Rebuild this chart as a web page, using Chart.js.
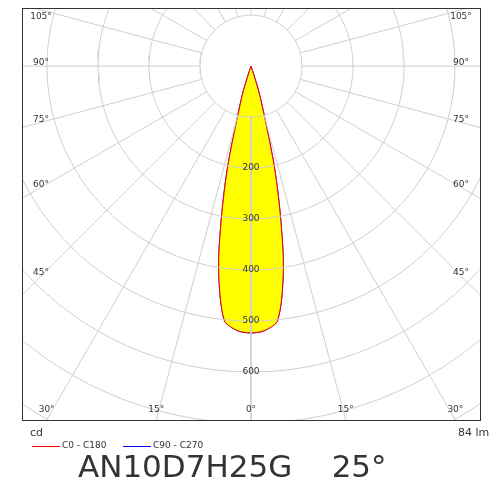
<!DOCTYPE html>
<html><head><meta charset="utf-8">
<script src="https://cdn.jsdelivr.net/npm/chart.js@4/dist/chart.umd.min.js"></script>
<style>
body{margin:0;background:#fff;font-family:"DejaVu Sans",sans-serif;}
#wrap{position:relative;width:500px;height:500px;}
canvas{position:absolute;left:0;top:0;}
.t{position:absolute;color:#333;white-space:nowrap;}
</style></head><body>
<div id="wrap"><canvas id="c" width="500" height="500"></canvas>
<div class="t" style="left:30px;top:426px;font-size:11px">cd</div>
<div class="t" style="left:458px;top:426px;font-size:11px">84 lm</div>
<div style="position:absolute;left:32px;top:446px;width:28px;height:1px;background:#ff0000"></div>
<div class="t" style="left:62px;top:440px;font-size:9px">C0 - C180</div>
<div style="position:absolute;left:123px;top:446px;width:28px;height:1px;background:#0000ff"></div>
<div class="t" style="left:153px;top:440px;font-size:9px">C90 - C270</div>
<div class="t" style="left:78px;top:448px;font-size:31px;color:#333">AN10D7H25G&nbsp;&nbsp;&nbsp;&nbsp;25°</div>
</div>
<script>
const angles=[0,3,6,9,11,13,15,17,20];
const c0=[523,519,501,405,304,205,99,50,0];
const c90=[523,519,501,405,304,205,99,50,0];
const rings=[100,200,300,400,500,600,700,800,900];
const ringLabels=[200,300,400,500,600];
const sideLabels=[105,90,75,60,45];
const bottomLabels=[30,15,0,15,30];

const rad=d=>d*Math.PI/180;
function lobe(vals){const pts=[];
  for(let i=angles.length-1;i>=0;i--)pts.push({x:-vals[i]*Math.sin(rad(angles[i])),y:-vals[i]*Math.cos(rad(angles[i]))});
  for(let i=1;i<angles.length;i++)pts.push({x:vals[i]*Math.sin(rad(angles[i])),y:-vals[i]*Math.cos(rad(angles[i]))});
  return pts;}
const ds=[];
rings.forEach(r=>{const p=[];for(let a=0;a<=360;a+=3)p.push({x:r*Math.sin(rad(a)),y:-r*Math.cos(rad(a))});
  ds.push({data:p,showLine:true,borderColor:'#cfcfcf',borderWidth:1,pointRadius:0,fill:false});});
for(let a=-165;a<=180;a+=15){ds.push({data:[{x:100*Math.sin(rad(a)),y:-100*Math.cos(rad(a))},{x:1200*Math.sin(rad(a)),y:-1200*Math.cos(rad(a))}],showLine:true,borderColor:'#cfcfcf',borderWidth:1,pointRadius:0});}
ds.push({data:lobe(c0),showLine:true,borderColor:'#ff0000',borderWidth:1,pointRadius:0,fill:'shape',backgroundColor:'#ffff00',tension:0.3});
ds.push({data:lobe(c90),showLine:true,borderColor:'#0000ff',borderWidth:1.2,pointRadius:0,fill:false,tension:0.3});

const labels={id:'labels',afterDraw(ch){const ctx=ch.ctx,xs=ch.scales.x,ys=ch.scales.y,a=ch.chartArea;
  ctx.save();ctx.strokeStyle='#333';ctx.lineWidth=1;ctx.strokeRect(a.left+0.5,a.top+0.5,a.right-a.left,a.bottom-a.top);
  ctx.font='9px "DejaVu Sans"';ctx.fillStyle='#333';ctx.textAlign='center';ctx.textBaseline='middle';
  ringLabels.forEach(r=>ctx.fillText(String(r),xs.getPixelForValue(0),ys.getPixelForValue(-r)));
  const lx=xs.getValueForPixel(a.right-19);
  sideLabels.forEach(d=>{const y=-lx/Math.tan(rad(d));const py=Math.max(ys.getPixelForValue(y)-3,a.top+9);
    ctx.fillText(d+'°',a.left+19,py);ctx.fillText(d+'°',a.right-19,py);});
  const by=ys.min;const signs=[-1,-1,0,1,1];
  bottomLabels.forEach((d,i)=>{let x=signs[i]*(-by)*Math.tan(rad(d));let px=xs.getPixelForValue(x);
    px=Math.min(Math.max(px,a.left+18),a.right-18);ctx.fillText(d+'°',px,a.bottom-10);});
  ctx.restore();}};

new Chart(document.getElementById('c'),{type:'scatter',data:{datasets:ds},
 options:{responsive:false,animation:false,layout:{padding:{left:22,right:20,top:8,bottom:80}},
  plugins:{legend:{display:false},tooltip:{enabled:false}},
  scales:{x:{type:'linear',min:-449,max:449,display:false},y:{type:'linear',min:-694,max:114,display:false}}},
 plugins:[labels]});
</script></body></html>
